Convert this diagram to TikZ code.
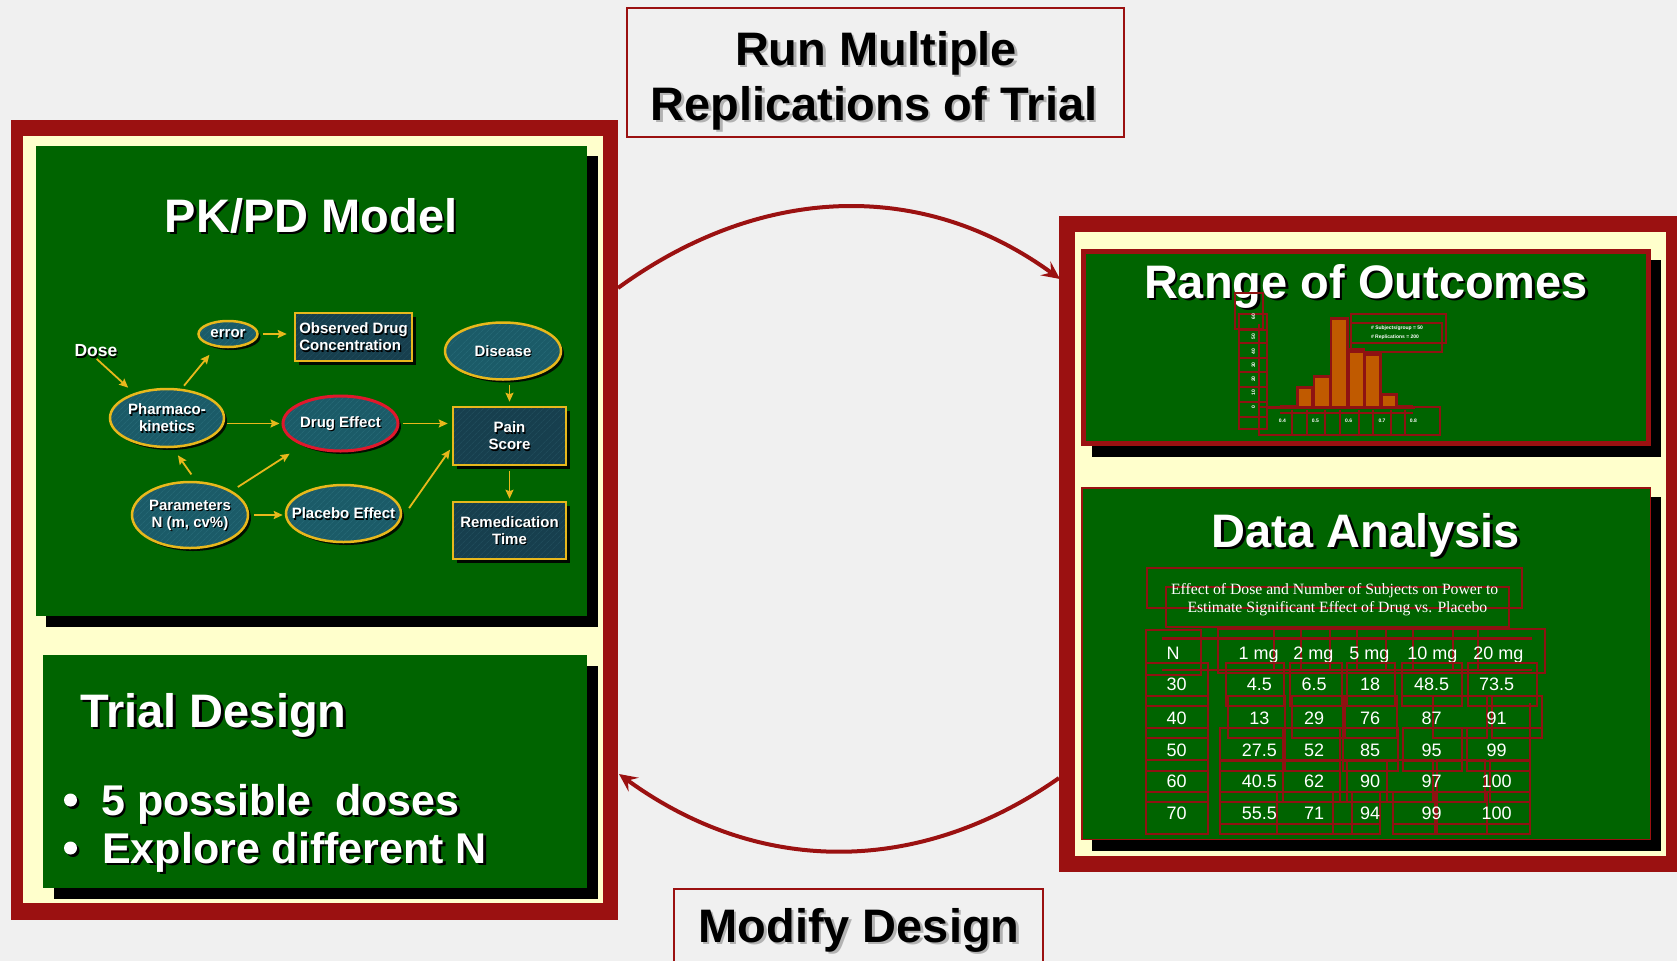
\documentclass[tikz,border=0pt]{standalone}
\usepackage{fontspec}
\setmainfont{Liberation Sans}
\newfontfamily\capfont{Liberation Serif}
\usetikzlibrary{shapes.geometric,arrows.meta,shadows,patterns.meta,calc}

\definecolor{pagebg}{HTML}{F0F0F0}
\definecolor{framered}{HTML}{9B1111}
\definecolor{cream}{HTML}{FFFFCC}
\definecolor{slidegreen}{RGB}{0,100,0}
\definecolor{gold}{HTML}{E8B81C}
\definecolor{tealfill}{HTML}{1B5B68}
\definecolor{hatchteal}{HTML}{2A6C7A}
\definecolor{tealbox}{HTML}{173F4E}
\definecolor{hatchbox}{HTML}{24505F}
\definecolor{drugred}{HTML}{E0182C}
\definecolor{barorange}{HTML}{C05A00}
\definecolor{outline}{HTML}{8E1212}

% text with a drop shadow: [offset]{shadow colour}{text}
\newcommand\txs[3][2.5pt]{\leavevmode\rlap{\kern#1\raisebox{-#1}[0pt][0pt]{\textcolor{#2}{#3}}}#3}
\newcommand\ts[1]{\txs[2.5pt]{black}{#1}}
\newcommand\gs[1]{\txs[2.5pt]{black!30}{#1}}
\newcommand\ns[1]{\txs[1.2pt]{black}{#1}}

\tikzset{
  oval/.style={ellipse, draw=gold, line width=2.5pt, inner xsep=-20pt, inner ysep=-8pt,
    text=white, align=center, font=\bfseries\fontsize{15}{17}\selectfont,
    drop shadow={shadow xshift=3pt, shadow yshift=-3pt, fill=black, opacity=0.85},
    preaction={fill=tealfill},
    pattern={Lines[angle=45,distance=4pt,line width=0.6pt]}, pattern color=hatchteal},
  sqbox/.style={rectangle, draw=gold, line width=2.5pt, inner xsep=3pt, inner ysep=2pt,
    text=white, font=\bfseries\fontsize{15}{17}\selectfont,
    drop shadow={shadow xshift=4pt, shadow yshift=-4pt, fill=black, opacity=0.9},
    preaction={fill=tealbox},
    pattern={Lines[angle=45,distance=4pt,line width=0.6pt]}, pattern color=hatchbox},
  flow/.style={draw=gold, line width=1.8pt, -{Stealth[length=9pt,width=8pt,inset=1.5pt]}},
  loopline/.style={draw=framered, line width=4pt, -{Stealth[length=18pt,width=17pt,inset=7pt]}},
  slidetitle/.style={text=white, font=\bfseries\fontsize{47}{47}\selectfont, inner sep=0pt},
  bullettext/.style={text=white, font=\bfseries\fontsize{43}{43}\selectfont, inner sep=0pt, anchor=base west},
  boxlabel/.style={text=black, font=\bfseries\fontsize{47}{47}\selectfont, inner sep=0pt, anchor=base},
  cell/.style={text=white, font=\fontsize{18}{18}\selectfont, inner sep=0pt, anchor=base},
  tblline/.style={draw=outline, line width=2pt},
  axisline/.style={draw=outline, line width=1.9pt},
  tiny/.style={text=white, font=\bfseries\fontsize{5}{5}\selectfont, inner sep=0pt},
  bar/.style={fill=barorange, draw=outline, line width=2.5pt},
}

\begin{document}
\begin{tikzpicture}[x=1pt,y=-1pt]
\useasboundingbox (0,0) rectangle (1677,961);
\fill[pagebg] (0,0) rectangle (1677,961);

% ---------- left frame: model and design ----------
\fill[framered] (11,120) rectangle (618,920);
\fill[cream] (23,136) rectangle (603,903);
\fill[black] (46,156) rectangle (598,627);
\fill[slidegreen] (35.6,146) rectangle (587,616);
\fill[black] (54,666) rectangle (598,899);
\fill[slidegreen] (43,655) rectangle (587,888);

\node[slidetitle, anchor=base] (pkpdtitle) at (311,232) {\ts{PK/PD Model}};

% PK/PD diagram
\node[text=white, font=\bfseries\fontsize{17.5}{17.5}\selectfont, inner sep=1pt] (dose) at (96,351) {\ns{Dose}};
\node[oval, minimum width=114pt, minimum height=58pt] (pk) at (167,418) {\ns{Pharmaco-}\\\ns{kinetics}};
\node[oval, minimum width=59pt, minimum height=26pt] (err) at (228,334) {\ns{error}};
\node[sqbox, minimum width=117pt, minimum height=48pt, align=left] (obs) at (353.5,337) {\ns{Observed Drug}\\\ns{Concentration}};
\node[oval, minimum width=116pt, minimum height=57pt] (dis) at (503,351) {\ns{Disease}};
\node[oval, draw=drugred, line width=3pt, minimum width=115pt, minimum height=55pt] (drug) at (340.5,423.5) {\ns{Drug Effect}};
\node[sqbox, minimum width=113pt, minimum height=58pt, align=center] (pain) at (509.5,436) {\ns{Pain}\\\ns{Score}};
\node[sqbox, minimum width=113pt, minimum height=57pt, align=center] (rem) at (509.5,530.5) {\ns{Remedication}\\\ns{Time}};
\node[oval, minimum width=116pt, minimum height=66pt] (par) at (190,515) {\ns{Parameters}\\\ns{N (m, cv\%)}};
\node[oval, minimum width=115pt, minimum height=57pt] (plc) at (343.5,513.5) {\ns{Placebo Effect}};

\draw[flow, shorten <=1pt, shorten >=9pt] (dose.south) -- (pk.143);
\draw[flow, shorten <=5pt, shorten >=10pt] (pk.64) -- (err.227);
\draw[flow, shorten <=4pt, shorten >=7pt] (err.east) -- (err.east -| obs.west);
\draw[flow, shorten <=4pt, shorten >=4pt] (dis.south -| pain.north) -- (pain.north);
\draw[flow, shorten <=3pt, shorten >=2pt] (pk.east |- drug.west) -- (drug.west);
\draw[flow, shorten <=3pt, shorten >=4pt] (drug.east) -- (drug.east -| pain.west);
\draw[flow, shorten <=5pt, shorten >=2pt] (pain.south) -- (rem.north);
\draw[flow, shorten <=8pt, shorten >=10pt] (par.80) -- (pk.-80);
\draw[flow, shorten <=7pt, shorten >=15pt] (par.30) -- (drug.210);
\draw[flow, shorten <=5pt, shorten >=2pt] (par.east) -- (par.east -| plc.west);
\draw[flow, shorten <=14pt, shorten >=3pt] (plc.-6) -- (pain.191);

% trial design panel
\node[slidetitle, anchor=base west] (trialtitle) at (80,727) {\ts{Trial Design}};
\fill[black] (73,802.5) circle[radius=6.5pt];
\fill[white] (70.5,800) circle[radius=6.5pt];
\fill[black] (73,850.5) circle[radius=6.5pt];
\fill[white] (70.5,848) circle[radius=6.5pt];
\node[bullettext] (dosesline) at (101,815) {\ts{5 possible\ \ doses}};
\node[bullettext] (nline) at (102,863) {\ts{Explore different N}};

% ---------- right frame: outcomes and analysis ----------
\fill[framered] (1059,216) rectangle (1677,872);
\fill[cream] (1075,232) rectangle (1666,856);
\fill[black] (1092,260) rectangle (1661,457);
\draw[draw=framered, line width=5pt, fill=slidegreen] (1083.5,251.5) rectangle (1648.5,443.5);
\fill[black] (1092,497) rectangle (1661,851);
\draw[draw=framered, line width=1.5pt, fill=slidegreen] (1081.75,487.75) rectangle (1650.25,839.25);

\node[slidetitle, anchor=base] (rangetitle) at (1366,298) {\ts{Range of Outcomes}};
\node[slidetitle, anchor=base] (datatitle) at (1366,547) {\ts{Data Analysis}};

% histogram of replicated outcomes
\begin{scope}[shift={(1220,300)}, x=0.33333pt, y=-0.33333pt]
  \fill[outline] (140,319) rectangle (585,328);
  \draw[axisline] (180,338) -- (580,338);
  \fill[outline] (180,314) rectangle (233,322);
  \fill[outline] (530,314) rectangle (580,322);
  \foreach \xa/\xb/\yt in {233/278/262, 282/330/230, 333/382/55, 385/432/148, 434/482/163, 485/530/283}
    \draw[bar] (\xa,\yt) rectangle (\xb,322);
  % axis label boxes
  \draw[axisline] (45,-20) rectangle (130,88);
  \draw[axisline] (57,42) rectangle (140,388);
  \foreach \yy in {90,128,175,215,260,305,350}
    \draw[axisline] (57,\yy) -- (140,\yy);
  \draw[axisline] (117,72) -- (117,340);
  \foreach \lab/\yy [count=\k] in {60/50, 50/110, 40/155, 30/195, 20/237, 10/278, 0/320}
    \node[tiny, rotate=90] (ylab\k) at (100,\yy) {\lab};
  \draw[axisline] (117,322) rectangle (660,405);
  \foreach \xx in {215,260,315,361,416,459,514,556}
    \draw[axisline] (\xx,330) -- (\xx,405);
  \foreach \lab/\xx [count=\k] in {0.4/187, 0.5/286, 0.6/386, 0.7/486, 0.8/580}
    \node[tiny] (xlab\k) at (\xx,363) {\lab};
  \draw[axisline] (392,42) rectangle (678,128);
  \draw[axisline] (392,70) rectangle (666,155);
  \node[tiny] (legend1) at (531,85) {\# Subjects/group = 50};
  \node[tiny] (legend2) at (525,112) {\# Replications = 200};
\end{scope}

% power table
\begin{scope}[shift={(1140,560)}, x=0.33333pt, y=-0.33333pt]
  \draw[tblline] (22,25) rectangle (1145,145);
  \draw[tblline] (78,80) rectangle (1108,200);
  \node[text=white, font=\capfont\fontsize{15.7}{15.7}\selectfont, inner sep=0pt, anchor=base] (cap1) at (584,103) {Effect of Dose and Number of Subjects on Power to};
  \node[text=white, font=\capfont\fontsize{15.7}{15.7}\selectfont, inner sep=0pt, anchor=base] (cap2) at (592,158) {Estimate Significant Effect of Drug vs. Placebo};
  % header row
  \draw[tblline] (18,210) rectangle (182,345);
  \draw[tblline] (235,208) rectangle (1215,340);
  \foreach \xx in {402,482,570,650,738,818,938,1015}
    \draw[tblline] (\xx,208) -- (\xx,330);
  \draw[draw=outline, line width=2.8pt] (65,235) -- (1175,235);
  \draw[draw=outline, line width=2.8pt] (65,330) -- (1175,330);
  \begin{scope}
    \clip (0,200) rectangle (1230,304);
    \node[cell] (hN) at (99,298) {N};
    \foreach \lab/\xx [count=\k] in {1 mg/356, 2 mg/520, 5 mg/688, 10 mg/877, 20 mg/1075}
      \node[cell] (hd\k) at (\xx,298) {\lab};
  \end{scope}
  % row cells
  \draw[tblline] (18,308) rectangle (205,822);
  \foreach \yy in {408,438,505,535,600,632,695,725}
    \draw[tblline] (18,\yy) -- (205,\yy);
  \foreach \ya/\yb/\cells in {308/438/{258/432,450/605,620/765,785/965,985/1190},
                             408/535/{265/435,455/610,615/770,880/1040,1055/1205},
                             505/632/{240/430,435/600,610/775,790/965,980/1170},
                             600/725/{240/600,430/740,620/880,890/1035,1050/1170},
                             695/822/{240/580,410/635,580/720,760/885,890/1040,1040/1170}}{
    \foreach \xa/\xb in \cells {
      \draw[tblline] (\xa,\ya) rectangle (\xb,\yb);
      \draw[tblline] (\xa,\yb-30) -- (\xb,\yb-30);
    }
  }
  \draw[tblline] (1170,430) -- (1170,815);
  \foreach \nn/\pA/\pB/\pC/\pD/\pE/\yy [count=\r] in
      {30/4.5/6.5/18/48.5/73.5/392, 40/13/29/76/87/91/492, 50/27.5/52/85/95/99/590,
       60/40.5/62/90/97/100/683, 70/55.5/71/94/99/100/778}{
    \node[cell] (rn\r) at (110,\yy) {\nn};
    \node[cell] (ra\r) at (358,\yy) {\pA};
    \node[cell] (rb\r) at (522,\yy) {\pB};
    \node[cell] (rc\r) at (690,\yy) {\pC};
    \node[cell] (rd\r) at (875,\yy) {\pD};
    \node[cell] (re\r) at (1070,\yy) {\pE};
  }
\end{scope}

% ---------- cycle labels and arrows ----------
\node[draw=framered, line width=2pt, minimum width=497pt, minimum height=129pt, inner sep=0pt] (runbox) at (875.5,72.5) {};
\node[boxlabel] (runline1) at (876,65) {\gs{Run Multiple}};
\node[boxlabel] (runline2) at (874,120) {\gs{Replications of Trial}};

\draw[draw=framered, line width=2pt] (674,961) -- (674,889) -- (1043,889) -- (1043,961);
\node[boxlabel] (modify) at (859,942) {\gs{Modify Design}};

\coordinate (fwdstart) at (618,288);
\coordinate (fwdend) at (1060,279);
\coordinate (backstart) at (1059,778);
\coordinate (backend) at (619,774);
\draw[loopline] (fwdstart) .. controls (758,186) and (920,177) .. (fwdend);
\draw[loopline] (backstart) .. controls (919,876) and (759,876) .. (backend);
\end{tikzpicture}
\end{document}
